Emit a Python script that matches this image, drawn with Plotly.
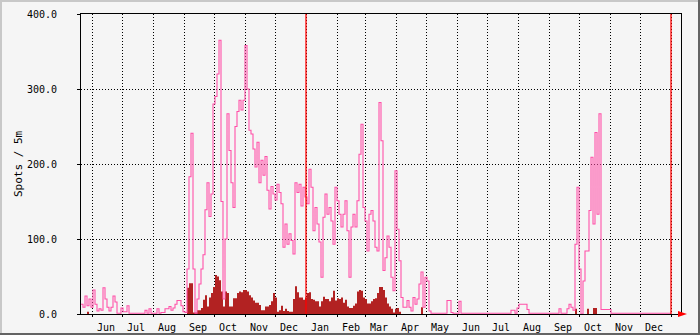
import pandas as pd
import plotly.graph_objects as go

# ---- data (2-day steps starting 2021-05-21) ----
start_date = "2021-05-21"
step_days = 2

spots_total = [
    13, 9, 24, 11, 20, 9, 32, 13, 4, 7,
    5, 35, 20, 9, 4, 9, 24, 16, 1, 1,
    8, 3, 3, 11, 1, 1, 1, 1, 1, 1,
    1, 1, 5, 1, 7, 1, 1, 1, 7, 1,
    2, 2, 7, 7, 10, 5, 8, 13, 18, 18,
    11, 3, 2, 60, 183, 241, 60, 1, 20, 40,
    60, 79, 139, 175, 130, 160, 280, 290, 320, 365,
    150, 20, 100, 267, 218, 175, 142, 250, 270, 285,
    272, 285, 358, 300, 245, 240, 220, 196, 229, 175,
    205, 185, 210, 165, 140, 170, 160, 152, 173, 162,
    147, 89, 120, 93, 107, 98, 80, 175, 162, 173,
    144, 169, 156, 147, 193, 169, 111, 142, 120, 96,
    49, 129, 160, 133, 142, 124, 93, 169, 151, 133,
    116, 133, 151, 111, 49, 116, 133, 116, 151, 213,
    253, 142, 124, 84, 133, 138, 124, 89, 84, 282,
    231, 58, 75, 104, 89, 49, 31, 191, 113, 71,
    22, 9, 9, 18, 9, 4, 22, 13, 20, 40,
    56, 9, 49, 44, 4, 1, 1, 1, 1, 1,
    1, 1, 1, 18, 18, 2, 1, 1, 1, 17,
    1, 1, 1, 1, 1, 1, 1, 1, 1, 1,
    1, 1, 1, 1, 1, 1, 1, 1, 1, 1,
    1, 1, 1, 1, 1, 5, 5, 1, 8, 13,
    13, 13, 13, 6, 1, 1, 1, 1, 1, 1,
    1, 1, 1, 1, 1, 1, 1, 1, 1, 7,
    1, 1, 1, 7, 13, 9, 5, 93, 169, 60,
    0, 44, 84, 84, 138, 209, 120, 242, 133, 267,
    6, 6, 6, 6, 6, 1, 1, 1, 1, 1,
    1, 1, 1, 1, 1, 1, 1, 1, 1, 1,
    1, 1, 1, 1, 1, 1, 1, 1, 1, 1,
    1, 1, 1, 1, 1,
]

spots_other = [
    0, 0, 0, 3, 0, 0, 0, 0, 0, 0,
    0, 0, 0, 0, 0, 0, 0, 0, 0, 0,
    0, 0, 0, 0, 0, 0, 0, 0, 0, 0,
    0, 0, 0, 0, 0, 0, 0, 0, 0, 0,
    0, 0, 0, 0, 0, 0, 0, 0, 0, 0,
    0, 0, 0, 35, 41, 41, 2, 2, 5, 5,
    8, 19, 25, 10, 22, 28, 36, 52, 50, 45,
    30, 10, 30, 28, 10, 10, 21, 21, 28, 30,
    29, 32, 32, 30, 25, 22, 18, 15, 15, 12,
    5, 5, 10, 10, 12, 17, 28, 22, 3, 5,
    11, 4, 7, 4, 3, 3, 20, 37, 29, 22,
    22, 19, 22, 28, 29, 20, 19, 17, 17, 10,
    17, 23, 20, 20, 17, 22, 31, 18, 21, 20,
    22, 15, 19, 10, 8, 8, 11, 14, 30, 32,
    31, 22, 20, 14, 14, 17, 20, 21, 28, 36,
    36, 32, 22, 14, 10, 7, 2, 7, 8, 3,
    0, 0, 0, 0, 0, 0, 0, 0, 0, 0,
    9, 0, 0, 0, 0, 0, 0, 0, 0, 0,
    0, 0, 0, 0, 0, 0, 0, 0, 0, 0,
    0, 0, 0, 0, 0, 0, 0, 0, 0, 0,
    0, 0, 0, 0, 0, 0, 0, 0, 0, 0,
    0, 0, 0, 0, 0, 0, 0, 0, 0, 0,
    0, 0, 0, 0, 0, 0, 0, 0, 0, 0,
    0, 0, 0, 0, 0, 0, 0, 0, 0, 0,
    0, 0, 0, 0, 0, 0, 0, 7, 0, 0,
    0, 0, 0, 7, 0, 0, 8, 8, 0, 0,
    0, 0, 0, 0, 0, 0, 0, 0, 0, 0,
    0, 0, 0, 0, 0, 0, 0, 0, 0, 0,
    0, 0, 0, 0, 0, 0, 0, 0, 0, 0,
    0, 0, 0, 0, 0,
]

month_starts = [
    "2021-06-01", "2021-07-01", "2021-08-01", "2021-09-01", "2021-10-01",
    "2021-11-01", "2021-12-01", "2022-01-01", "2022-02-01", "2022-03-01",
    "2022-04-01", "2022-05-01", "2022-06-01", "2022-07-01", "2022-08-01",
    "2022-09-01", "2022-10-01", "2022-11-01", "2022-12-01", "2023-01-01",
]
month_label_dates = [
    "2021-06-15", "2021-07-15", "2021-08-15", "2021-09-15", "2021-10-15",
    "2021-11-15", "2021-12-15", "2022-01-15", "2022-02-15", "2022-03-15",
    "2022-04-15", "2022-05-15", "2022-06-15", "2022-07-15", "2022-08-15",
    "2022-09-15", "2022-10-15", "2022-11-15", "2022-12-15",
]
month_labels = [
    "Jun", "Jul", "Aug", "Sep", "Oct", "Nov", "Dec", "Jan", "Feb", "Mar",
    "Apr", "May", "Jun", "Jul", "Aug", "Sep", "Oct", "Nov", "Dec",
]
year_marks = ["2022-01-01", "2023-01-01"]
y_tickvals = [0, 100, 200, 300, 400]
y_ticktext = ["0.0", "100.0", "200.0", "300.0", "400.0"]
x_range = ["2021-05-21", "2023-01-11"]

# ---- figure ----
n = len(spots_total)
dates = pd.date_range(start_date, periods=n + 1, freq=f"{step_days}D")
tot_y = spots_total + [spots_total[-1]]
oth_y = spots_other + [spots_other[-1]]

FONT = "DejaVu Sans Mono"
W, H = 700, 335
L, R, T, B = 81, 19, 14, 21
PW, PH = W - L - R, H - T - B


def px(x):
    return (x - L) / PW


def py(y):
    return (H - B - y) / PH


fig = go.Figure()
fig.add_trace(go.Scatter(
    x=dates, y=oth_y, mode="lines", line=dict(shape="hv", width=0, color="#B22222"),
    fill="tozeroy", fillcolor="#B22222", hoverinfo="skip", showlegend=False,
))
fig.add_trace(go.Scatter(
    x=dates, y=tot_y, mode="lines", line=dict(shape="hv", width=1.1, color="#FF50A8"),
    hoverinfo="skip", showlegend=False,
))

shapes = []
for d in year_marks:
    shapes.append(dict(type="line", xref="x", yref="paper", x0=d, x1=d, y0=0, y1=1,
                       line=dict(color="#FF0000", width=1.3), layer="above"))
# arrow at end of x axis
shapes.append(dict(type="path", xref="paper", yref="paper",
                   path=f"M {px(678)} {py(311)} L {px(687)} {py(314)} L {px(678)} {py(317)} Z",
                   fillcolor="#FF0000", line=dict(color="#FF0000", width=0), layer="above"))
# frame shading
light, dark = "#C8C8C8", "#646464"
shapes += [
    dict(type="rect", xref="paper", yref="paper", x0=px(0), x1=px(700), y0=py(0), y1=py(2),
         fillcolor=light, line=dict(width=0), layer="above"),
    dict(type="rect", xref="paper", yref="paper", x0=px(0), x1=px(2), y0=py(0), y1=py(335),
         fillcolor=light, line=dict(width=0), layer="above"),
    dict(type="rect", xref="paper", yref="paper", x0=px(698), x1=px(700), y0=py(0), y1=py(335),
         fillcolor=dark, line=dict(width=0), layer="above"),
    dict(type="rect", xref="paper", yref="paper", x0=px(0), x1=px(700), y0=py(333), y1=py(335),
         fillcolor=dark, line=dict(width=0), layer="above"),
]

fig.update_layout(
    width=W, height=H,
    margin=dict(l=L, r=R, t=T, b=B, pad=0, autoexpand=False),
    paper_bgcolor="#F5F5F5", plot_bgcolor="#F5F5F5",
    font=dict(family=FONT, size=10, color="#000000"),
    shapes=shapes,
    showlegend=False,
    annotations=[dict(text="Spots / 5m", textangle=-90, xref="paper", yref="paper",
                      x=px(18), y=py(164), showarrow=False,
                      font=dict(family=FONT, size=11, color="#000000"),
                      xanchor="center", yanchor="middle")],
)
fig.update_xaxes(
    type="date", range=x_range, automargin=False,
    tickmode="array", tickvals=month_label_dates, ticktext=month_labels,
    ticks="", showgrid=False, zeroline=False,
    showline=True, linecolor="#000000", linewidth=1, mirror=True,
    tickfont=dict(family=FONT, size=10, color="#000000"),
    ticklabelstandoff=4,
    minor=dict(tickmode="array", tickvals=month_starts, ticks="outside", ticklen=2,
               tickcolor="#000000", showgrid=True, gridcolor="#000000",
               griddash="1px,2px", gridwidth=1),
)
fig.update_yaxes(
    range=[0, 400], automargin=False,
    tickmode="array", tickvals=y_tickvals, ticktext=y_ticktext,
    ticks="outside", ticklen=3, tickcolor="#000000",
    showgrid=True, gridcolor="#000000", griddash="1px,2px", gridwidth=1,
    zeroline=False, showline=True, linecolor="#000000", linewidth=1, mirror=True,
    tickfont=dict(family=FONT, size=10, color="#000000"),
    ticklabelstandoff=18,
)

fig.write_html("out.html")
